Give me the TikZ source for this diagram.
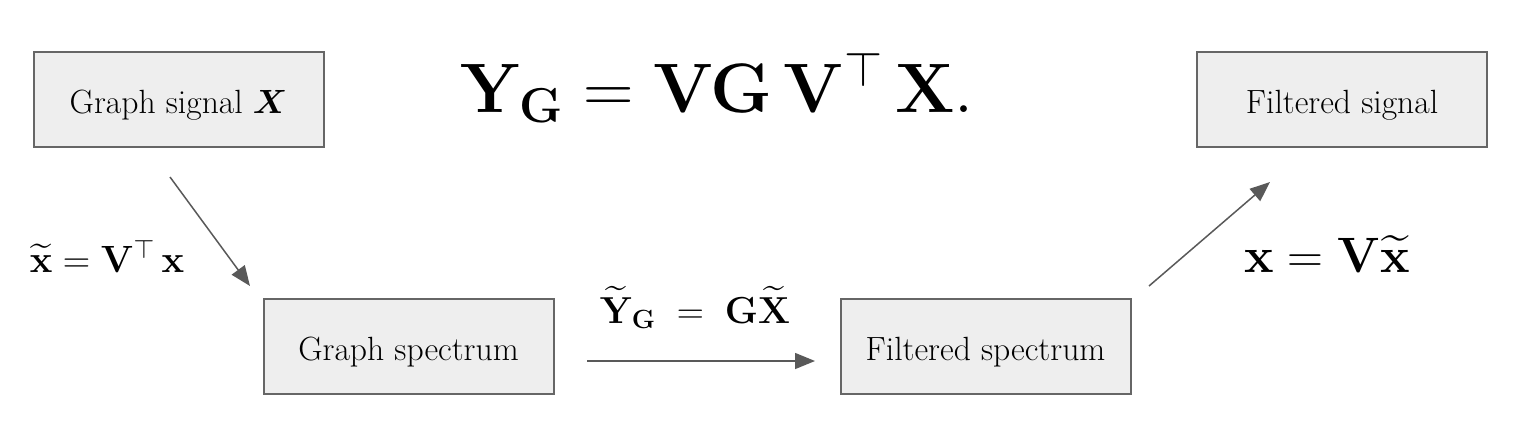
\RequirePackage{fix-cm}
\documentclass[tikz,border=0pt]{standalone}
\usepackage{amsmath,amssymb}
\usepackage{bm}
\usetikzlibrary{arrows.meta}
\definecolor{boxfill}{HTML}{EEEEEE}
\definecolor{boxline}{HTML}{666666}
\definecolor{arrowc}{HTML}{595959}
\tikzset{
  stagebox/.style={draw=boxline, line width=1pt, fill=boxfill, minimum width=145pt, minimum height=47.5pt, inner sep=0pt, text height=14pt, text depth=0.5pt, font=\fontsize{16.8}{20}\selectfont},
  flow/.style={draw=arrowc, line width=0.75pt, -{Triangle[length=10pt,width=8pt]}},
  eqn/.style={inner sep=0pt, anchor=base}
}
\begin{document}
\begin{tikzpicture}[x=0.5pt,y=-0.5pt]
\useasboundingbox (0,0) rectangle (1518,428);
\node[stagebox] (sig) at (178.5,99.5) {Graph signal $\bm{X}$};
\node[stagebox] (fsig) at (1342,99.5) {Filtered signal};
\node[stagebox] (spec) at (408.5,346.5) {Graph spectrum};
\node[stagebox] (fspec) at (985.5,346.5) {Filtered spectrum};

\coordinate (a1s) at (170,177);
\coordinate (a1e) at (250,286);
\coordinate (a2s) at (587,361);
\coordinate (a2e) at (815,361);
\coordinate (a3s) at (1149,286);
\coordinate (a3e) at (1270,182);
\draw[flow] (a1s) -- (a1e);
\draw[flow] (a2s) -- (a2e);
\draw[flow] (a3s) -- (a3e);

\node[eqn] (big) at (717,112) {\fontsize{35}{42}\selectfont $\mathbf{Y}_{\mathbf{G}} = \mathbf{V}\mathbf{G}\,\mathbf{V}^{\top}\,\mathbf{X}.$};
\node[eqn] (e1) at (107,272) {\fontsize{19}{23}\selectfont $\widetilde{\mathbf{x}} = \mathbf{V}^{\top}\,\mathbf{x}$};
\node[eqn] (e2) at (695,323) {\fontsize{18.8}{23}\selectfont $\widetilde{\mathbf{Y}}_{\mathbf{G}} \;=\; \mathbf{G}\widetilde{\mathbf{X}}$};
\node[eqn] (e3) at (1327,272) {\fontsize{24.88}{30}\selectfont $\mathbf{x} = \mathbf{V}\widetilde{\mathbf{x}}$};
\end{tikzpicture}
\end{document}
